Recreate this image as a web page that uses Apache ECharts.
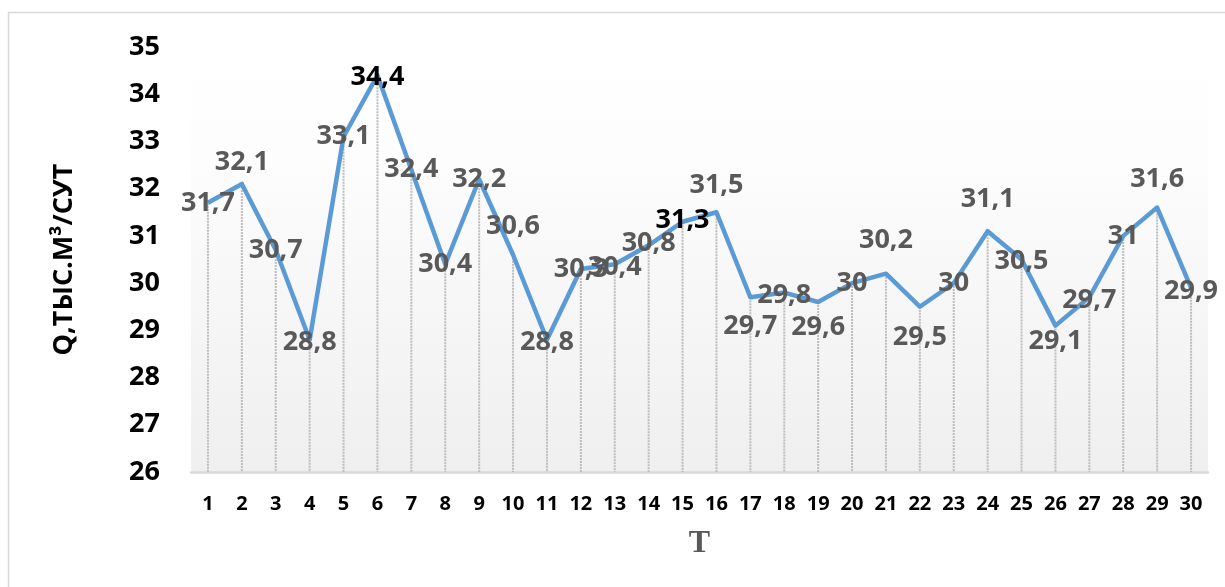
<!DOCTYPE html>
<html>
<head>
<meta charset="utf-8">
<script src="https://cdn.jsdelivr.net/npm/echarts@6/dist/echarts.min.js"></script>
<style>
  html, body { margin: 0; padding: 0; background: #ffffff; }
  #chart { width: 1225px; height: 587px; }
</style>
</head>
<body>
<div id="chart"></div>
<script>
// Daily water supply over a month, thousand m³ per day
const days = ['1','2','3','4','5','6','7','8','9','10','11','12','13','14','15',
              '16','17','18','19','20','21','22','23','24','25','26','27','28','29','30'];
const flow = [31.7, 32.1, 30.7, 28.8, 33.1, 34.4, 32.4, 30.4, 32.2, 30.6,
              28.8, 30.3, 30.4, 30.8, 31.3, 31.5, 29.7, 29.8, 29.6, 30.0,
              30.2, 29.5, 30.0, 31.1, 30.5, 29.1, 29.7, 31.0, 31.6, 29.9];
const yTicks = { min: 26, max: 35, step: 1 };
const yTitle = 'Q,ТЫС.М³/СУТ';
const xTitle = 'T';

// Vertical nudge of each value label (px), so neighbouring labels stay readable
const labelShift = [0, -22, 0, 3, 0, 2, 0, 0, 0, -28,
                    3, 0, 3, -2, -1, -27, 29, 3, 25, 0,
                    -33, 31, 0, -32, 2, 16, 3, 0, -28, 3];
// Labels drawn in black instead of grey
const darkLabels = [5, 14];

const fmt = v => String(v).replace('.', ',');
const LABEL_FONT = '"Open Sans", sans-serif';

const chart = echarts.init(document.getElementById('chart'), null, { renderer: 'canvas' });

const lineData = flow.map((v, i) => ({
  value: v,
  label: {
    show: true,
    position: 'inside',
    offset: [0, labelShift[i]],
    color: darkLabels.includes(i) ? '#000000' : '#595959'
  }
}));

chart.setOption({
  animation: false,
  backgroundColor: '#ffffff',
  graphic: [{
    type: 'rect',
    z: -10,
    shape: { x: 8.5, y: 12.5, width: 1240, height: 600 },
    style: { fill: '#ffffff', stroke: '#d9d9d9', lineWidth: 1.5 }
  }],
  grid: {
    left: 191, right: 17, top: 47, bottom: 115,
    show: true,
    borderWidth: 0,
    backgroundColor: new echarts.graphic.LinearGradient(0, 0, 0, 1, [
      { offset: 0, color: '#ffffff' },
      { offset: 0.25, color: '#fdfdfd' },
      { offset: 1, color: '#efefef' }
    ])
  },
  xAxis: {
    type: 'category',
    data: days,
    boundaryGap: true,
    name: xTitle,
    nameLocation: 'middle',
    nameGap: 56,
    nameTextStyle: {
      fontFamily: 'Liberation Serif', fontWeight: 'bold', fontSize: 32, color: '#595959'
    },
    axisLine: { lineStyle: { color: '#d9d9d9', width: 2.5 } },
    axisTick: { show: false },
    axisLabel: {
      interval: 0, margin: 22,
      fontFamily: LABEL_FONT, fontWeight: 'bold', fontSize: 20, color: '#000000'
    },
    splitLine: { show: false }
  },
  yAxis: {
    type: 'value',
    min: yTicks.min, max: yTicks.max, interval: yTicks.step,
    name: yTitle,
    nameLocation: 'middle',
    nameRotate: 90,
    nameGap: 113,
    nameTextStyle: {
      fontFamily: LABEL_FONT, fontWeight: 'bold', fontSize: 27, color: '#000000'
    },
    axisLine: { show: false },
    axisTick: { show: false },
    splitLine: { show: false },
    axisLabel: {
      margin: 31,
      fontFamily: LABEL_FONT, fontWeight: 'bold', fontSize: 27, color: '#000000'
    }
  },
  series: [
    {
      // drop lines from each value down to the category axis
      type: 'custom',
      z: 1,
      silent: true,
      data: flow.map((v, i) => [i, v]),
      renderItem: (params, api) => {
        const top = api.coord([api.value(0), api.value(1)]);
        const base = api.coord([api.value(0), yTicks.min]);
        return {
          type: 'line',
          shape: { x1: top[0], y1: top[1], x2: base[0], y2: base[1] },
          style: { stroke: '#bdbdbd', lineWidth: 2, lineDash: [2, 1] }
        };
      }
    },
    {
      type: 'line',
      z: 3,
      data: lineData,
      showSymbol: true,
      symbol: 'circle',
      symbolSize: 0.1,
      lineStyle: { color: '#5b9bd5', width: 4.5, join: 'round' },
      itemStyle: { color: '#5b9bd5' },
      label: {
        show: true,
        position: 'inside',
        fontFamily: LABEL_FONT, fontWeight: 'bold', fontSize: 27,
        formatter: p => fmt(p.value)
      }
    }
  ]
});
</script>
</body>
</html>
